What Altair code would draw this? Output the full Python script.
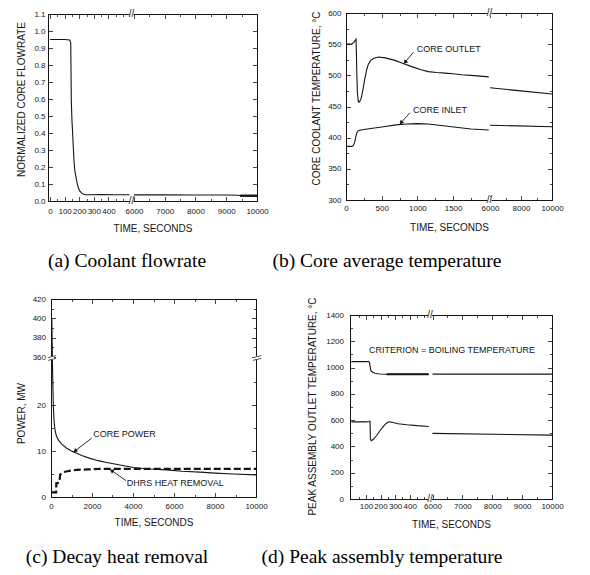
import math
import altair as alt
import pandas as pd

FONT = "Liberation Sans"
SERIF = "Liberation Serif"
INK = "#151515"
TS, TSM = 4.5, 2.5
T2 = 6000          # first time of the right-hand (broken) segment
SPLIT = 3000
GW, GH = 574, 559  # whole figure (one layered view)

# ---------------- (a) Coolant flowrate ----------------
A_T_L = [0, 100, 135, 142, 146, 150, 155, 160, 164, 170, 178, 186, 194, 205, 217, 230, 245, 280, 350, 450, 545]
A_F_L = [0.95, 0.95, 0.947, 0.93, 0.59, 0.48, 0.40, 0.31, 0.24, 0.18, 0.14, 0.105, 0.078, 0.058, 0.046, 0.040,
         0.037, 0.037, 0.038, 0.037, 0.037]
A_T_R = [6000, 7000, 8000, 9000, 9400, 9450, 10000]
A_F_R = [0.036, 0.036, 0.035, 0.035, 0.034, 0.031, 0.031]
A_XTICKS = [0, 100, 200, 300, 400, 6000, 7000, 8000, 9000, 10000]
A_XMINOR = [50, 150, 250, 350, 450, 500, 6500, 7500, 8500, 9500]
A_YTICKS = [0.0, 0.1, 0.2, 0.3, 0.4, 0.5, 0.6, 0.7, 0.8, 0.9, 1.0, 1.1]
A_YMINOR = []

# ---------------- (b) Core average temperature ----------------
B_T_OUT_L = [0, 80, 110, 140, 145, 152, 160, 170, 180, 192, 205, 219, 240, 266, 290, 313, 345, 383, 453, 550,
             686, 800, 920, 1050, 1153, 1270, 1387, 1500, 1620, 1800, 2000]
B_OUT_L = [550, 550, 553, 558, 540, 500, 472, 460, 457, 458, 461, 466, 479, 496, 509, 518, 524, 527, 529.5, 528,
           524, 519, 514, 509, 506, 504.5, 503.5, 502.5, 501, 499.5, 497.5]
B_T_OUT_R = [6000, 8000, 10000]
B_OUT_R = [480, 475, 470]
B_T_IN_L = [0, 80, 100, 120, 135, 150, 165, 190, 250, 400, 550, 700, 850, 1000, 1150, 1300, 1450, 1600, 1750, 2000]
B_IN_L = [386, 386, 387, 392, 400, 407, 410.5, 412, 413, 415.5, 418, 420.5, 422, 422.6, 422, 420, 418, 416, 414, 412.4]
B_T_IN_R = [6000, 10000]
B_IN_R = [420, 417.5]
B_XTICKS = [0, 500, 1000, 1500, 6000, 8000, 10000]
B_XMINOR = [250, 750, 1250, 1750, 7000, 9000]
B_YTICKS = [300, 350, 400, 450, 500, 550, 600]
B_YMINOR = [325, 375, 425, 475, 525, 575]
B_LABELS = ["CORE OUTLET", "CORE INLET"]
B_LAB_T = [990, 938]
B_LAB_Y = [542, 445]
B_ARR_T0 = [943, 896]
B_ARR_Y0 = [537, 440]
B_ARR_T1 = [827, 770]
B_ARR_Y1 = [521, 424]

# ---------------- (c) Decay heat removal ----------------
C_T_POW = [0, 40, 75, 113, 150, 195, 260, 358, 500, 765, 1000, 1253, 1500, 1902, 2300, 2717, 3300, 4016, 4800,
           5643, 6400, 7268, 8000, 8894, 10000]
C_POW = [400, 400, 28, 20, 16.5, 14.6, 13.3, 12.4, 11.6, 10.6, 10.0, 9.5, 9.0, 8.4, 7.9, 7.5, 7.0, 6.4, 6.1,
         5.9, 5.6, 5.4, 5.2, 5.0, 4.8]
C_T_DHRS = [0, 250, 262, 330, 340, 420, 440, 520, 600, 800, 1000, 1250, 1800, 2400, 3000, 4000, 7000, 10000]
C_DHRS = [1.0, 1.0, 3.0, 3.0, 3.4, 3.6, 4.8, 5.2, 5.4, 5.6, 5.75, 5.9, 6.0, 6.1, 6.1, 6.1, 6.1, 6.1]
C_XTICKS = [0, 2000, 4000, 6000, 8000, 10000]
C_XMINOR = [1000, 3000, 5000, 7000, 9000]
C_YTICKS = [0, 10, 20, 360, 380, 400, 420]
C_YMINOR = [5, 15, 25, 370, 390, 410]
C_LABELS = ["CORE POWER", "DHRS HEAT REMOVAL"]
C_LAB_T = [2063, 3692]
C_LAB_P = [13.7, 3.0]
C_ARR_T0 = [1985, 3659]
C_ARR_P0 = [12.8, 3.55]
C_ARR_T1 = [1170, 2960]
C_ARR_P1 = [10.0, 5.75]

# ---------------- (d) Peak assembly temperature ----------------
D_T_LOW_L = [0, 100, 124, 128, 131, 136, 150, 175, 200, 225, 245, 258, 280, 320, 380, 450, 530]
D_LOW_L = [587, 587, 590, 592, 460, 443, 452, 485, 525, 560, 580, 587, 584, 573, 565, 558, 552]
D_T_LOW_R = [6000, 10000]
D_LOW_R = [499, 486]
D_T_UP_L = [0, 108, 118, 124, 128, 132, 139, 150, 163, 180, 200, 242, 530]
D_UP_L = [1045, 1045, 1048, 1040, 1015, 985, 970, 962, 957, 953, 951, 949, 949]
D_T_UP_R = [6000, 10000]
D_UP_R = [950, 950]
D_XTICKS = [100, 200, 300, 400, 6000, 7000, 8000, 9000, 10000]
D_XMINOR = [50, 150, 250, 350, 450, 500, 6500, 7500, 8500, 9500]
D_YTICKS = [0, 200, 400, 600, 800, 1000, 1200, 1400]
D_YMINOR = [100, 300, 500, 700, 900, 1100, 1300]
D_NOTE = ["CRITERION = BOILING TEMPERATURE"]
D_NOTE_T = [6650]
D_NOTE_Y = [1134]

CAPTIONS = ["(a) Coolant flowrate", "(b) Core average temperature",
            "(c) Decay heat removal", "(d) Peak assembly temperature"]

# panel boxes inside the figure: (left, right, top, bottom) in pixels
A_BOX = (40, 249, 6, 193)
B_BOX = (338, 544, 5, 192)
C_BOX = (43, 248, 291, 489)
D_BOX = (342, 544, 307, 491)
AW, BW, DW = 209, 206, 202
BH = B_BOX[3] - B_BOX[2]

# ---------- broken time axis: u = off1 + t*k1 (left part), off2 + (t-6000)*k2 (right part)
A_MAP = (2.0, 0.146, 86.0, (AW - 86.0) / 4000)
B_MAP = (0.0, 0.0714, 144.0, (BW - 144.0) / 4000)
D_MAP = (1.3, 0.146, 82.5, (DW - 82.5) / 4000)
A_BRK, B_BRK, D_BRK = 83.5, 143.5, 80.0


def u_expr(m, f="t"):
    o1, k1, o2, k2 = m
    return f"datum.{f} < {SPLIT} ? {o1} + datum.{f} * {k1} : {o2} + (datum.{f} - {T2}) * {k2}"


def u_of(m, t):
    o1, k1, o2, k2 = m
    return round(o1 + t * k1 if t < SPLIT else o2 + (t - T2) * k2, 6)


def u_label(m, ub):
    o1, k1, o2, k2 = m
    return (f"datum.value < {ub} ? format(round((datum.value - {o1}) / {k1}), 'd') : "
            f"format(round({T2} + (datum.value - {o2}) / {k2}), 'd')")


# ---------- broken power axis of (c)
def v_expr(f):
    return (f"datum.{f} <= 30 ? datum.{f} * 4.6 : (datum.{f} >= 360 ? 140 + (datum.{f} - 360) * {58 / 60} : "
            f"138 + (datum.{f} - 30) * {2 / 330})")


def v_of(p):
    if p <= 30:
        return round(p * 4.6, 6)
    if p >= 360:
        return round(140 + (p - 360) * 58 / 60, 6)
    return round(138 + (p - 30) * 2 / 330, 6)


C_VLABEL = ("datum.value < 139 ? format(round(datum.value / 4.6), 'd') : "
            "format(round(360 + (datum.value - 140) * 60 / 58), 'd')")
C_BRK = 139.0

ONE = pd.DataFrame({"k": [0]})


def series(parts):
    rows = []
    for seg, (ts, ys) in enumerate(parts):
        rows += [{"t": t, "val": y, "seg": seg} for t, y in zip(ts, ys)]
    return pd.DataFrame(rows)


def offset_for(box, orient, s):
    xl, xr, yt, yb = box
    if orient == "bottom":
        return yb - s - GH
    if orient == "top":
        return -(yt + s)
    if orient == "left":
        return -(xl + s)
    return xr - s - GW


def bare(box, orient, values, size):
    return alt.Axis(orient=orient, values=values, tickSize=size, offset=offset_for(box, orient, size),
                    domain=False, grid=False, ticks=True, tickColor=INK, tickWidth=0.8, labels=False,
                    title=None, minExtent=0, maxExtent=5)


def edge(box, orient):
    return alt.Axis(orient=orient, values=[], offset=offset_for(box, orient, 0), domain=True,
                    domainColor=INK, domainWidth=1, domainCap="square", grid=False, ticks=False,
                    labels=False, title=None, minExtent=0, maxExtent=1)


def labeled(box, orient, values, lp, title, tx=None, ty=None, expr=None, fmt=None):
    kw = dict(orient=orient, values=values, tickSize=TS, offset=offset_for(box, orient, TS), domain=False,
              grid=False, ticks=True, tickColor=INK, tickWidth=0.8, labels=True, labelFont=FONT,
              labelFontSize=8, labelColor=INK, labelPadding=lp, labelOverlap=False, labelFlush=False,
              title=title, titleFont=FONT, titleFontSize=10, titleFontWeight="normal",
              titleColor=INK, titleBaseline="middle", minExtent=0)
    if expr is not None:
        kw["labelExpr"] = expr
    if fmt is not None:
        kw["format"] = fmt
    if tx is not None:
        kw["titleX"] = tx
    if ty is not None:
        kw["titleY"] = ty
    return alt.Axis(**kw)


def frame(box, xs, ys, x0, y0, bottom, left, xmaj, xmin, ymaj, ymin):
    one = pd.DataFrame({"xx": [x0], "yy": [y0]})

    def lay(xa, ya):
        return alt.Chart(one).mark_point(opacity=0).encode(
            x=alt.X("xx:Q", scale=xs, axis=xa), y=alt.Y("yy:Q", scale=ys, axis=ya))

    return [lay(bottom, left),
            lay(bare(box, "top", xmaj, TS), bare(box, "right", ymaj, TS)),
            lay(bare(box, "bottom", xmin, TSM), bare(box, "left", ymin, TSM)),
            lay(bare(box, "top", xmin, TSM), bare(box, "right", ymin, TSM)),
            lay(edge(box, "bottom"), edge(box, "left")),
            lay(edge(box, "top"), edge(box, "right"))]


def caption(text, cx, cy):
    return (alt.Chart(ONE).mark_text(text=text, font=SERIF, fontSize=19.5, color="black",
                                     align="center", baseline="middle")
            .encode(x=alt.value(cx), y=alt.value(cy)))


def xbreak(box, xs, ub):
    df = pd.DataFrame({"ub": [ub]})
    out = []
    for yy in (box[2], box[3]):
        out.append(alt.Chart(df).transform_calculate(lo="datum.ub - 2", hi="datum.ub + 2")
                   .mark_rect(color="white")
                   .encode(x=alt.X("lo:Q", scale=xs, axis=None), x2="hi:Q",
                           y=alt.value(yy - 3), y2=alt.value(yy + 3)))
        out.append(alt.Chart(df).mark_text(text="//", font=FONT, fontSize=10, color=INK)
                   .encode(x=alt.X("ub:Q", scale=xs, axis=None), y=alt.value(yy)))
    return out


def line(df, xs, ys, xf, yf, width=1.1, dash=None, flt=None, calc=None):
    ch = alt.Chart(df)
    if calc:
        ch = ch.transform_calculate(**calc)
    if flt:
        ch = ch.transform_filter(flt)
    kw = dict(color=INK, strokeWidth=width, strokeCap="butt")
    if dash:
        kw["strokeDash"] = dash
    return ch.mark_line(**kw).encode(
        x=alt.X(f"{xf}:Q", scale=xs, axis=None), y=alt.Y(f"{yf}:Q", scale=ys, axis=None),
        detail="seg:N", order="t:Q")


def annotations(xs, ys, labels, lt, ly, t0, y0, t1, y1, xcalc, ycalc, px, py):
    lab = pd.DataFrame({"label": labels, "t": lt, "y": ly})
    ang = []
    for a, b, c, d in zip(t0, y0, t1, y1):
        dx = px(c) - px(a)
        dy = py(d) - py(b)
        ang.append((math.degrees(math.atan2(dx, -dy)) + 360) % 360)
    arr = pd.DataFrame({"t0": t0, "y0": y0, "t1": t1, "y1": y1, "ang": ang})
    text = (alt.Chart(lab).transform_calculate(X=xcalc("t"), Y=ycalc("y"))
            .mark_text(align="left", baseline="middle", font=FONT, fontSize=9, color=INK)
            .encode(x=alt.X("X:Q", scale=xs, axis=None), y=alt.Y("Y:Q", scale=ys, axis=None), text="label:N"))
    base = alt.Chart(arr).transform_calculate(X0=xcalc("t0"), X1=xcalc("t1"), Y0=ycalc("y0"), Y1=ycalc("y1"))
    rule = base.mark_rule(color=INK, strokeWidth=0.9).encode(
        x=alt.X("X0:Q", scale=xs, axis=None), x2="X1:Q",
        y=alt.Y("Y0:Q", scale=ys, axis=None), y2="Y1:Q")
    head = base.mark_point(shape="triangle-up", filled=True, size=22, color=INK, opacity=1).encode(
        x=alt.X("X1:Q", scale=xs, axis=None), y=alt.Y("Y1:Q", scale=ys, axis=None),
        angle=alt.Angle("ang:Q", scale=None))
    return [text, rule, head]


def panel(layers):
    return alt.layer(*layers).resolve_axis(x="independent", y="independent")


def sc(domain, rng):
    return alt.Scale(domain=domain, range=rng, nice=False, zero=False)


# ================= panel (a) =================
xa = sc([0, AW], [A_BOX[0], A_BOX[1]])
ya = sc([0, 1.1], [A_BOX[3], A_BOX[2]])
a_df = series([(A_T_L, A_F_L), (A_T_R, A_F_R)])
pa = panel(
    frame(A_BOX, xa, ya, 0, 0,
          labeled(A_BOX, "bottom", [u_of(A_MAP, t) for t in A_XTICKS], 6.5, "TIME, SECONDS", ty=31.5,
                  expr=u_label(A_MAP, A_BRK)),
          labeled(A_BOX, "left", A_YTICKS, 3, "NORMALIZED CORE FLOWRATE", tx=-31.5, ty=A_BOX[2] + 85,
                  fmt=".1f"),
          [u_of(A_MAP, t) for t in A_XTICKS], [u_of(A_MAP, t) for t in A_XMINOR], A_YTICKS, A_YMINOR)
    + [line(a_df, xa, ya, "u", "val", calc={"u": u_expr(A_MAP)}),
       line(a_df, xa, ya, "u", "val", width=2.4, flt="datum.t >= 9450", calc={"u": u_expr(A_MAP)})]
    + xbreak(A_BOX, xa, A_BRK)
    + [caption(CAPTIONS[0], 119, 253)])

# ================= panel (b) =================
xb = sc([0, BW], [B_BOX[0], B_BOX[1]])
yb = sc([300, 600], [B_BOX[3], B_BOX[2]])
b_out = series([(B_T_OUT_L, B_OUT_L), (B_T_OUT_R, B_OUT_R)])
b_in = series([(B_T_IN_L, B_IN_L), (B_T_IN_R, B_IN_R)])
pb = panel(
    frame(B_BOX, xb, yb, 0, 300,
          labeled(B_BOX, "bottom", [u_of(B_MAP, t) for t in B_XTICKS], 4.5, "TIME, SECONDS", ty=31.5,
                  expr=u_label(B_MAP, B_BRK)),
          labeled(B_BOX, "left", B_YTICKS, 5, "CORE COOLANT TEMPERATURE, °C", tx=-34.5, ty=B_BOX[2] + 85,
                  fmt="d"),
          [u_of(B_MAP, t) for t in B_XTICKS], [u_of(B_MAP, t) for t in B_XMINOR], B_YTICKS, B_YMINOR)
    + [line(b_out, xb, yb, "u", "val", calc={"u": u_expr(B_MAP)}),
       line(b_in, xb, yb, "u", "val", calc={"u": u_expr(B_MAP)})]
    + annotations(xb, yb, B_LABELS, B_LAB_T, B_LAB_Y, B_ARR_T0, B_ARR_Y0, B_ARR_T1, B_ARR_Y1,
                  lambda f: u_expr(B_MAP, f), lambda f: f"datum.{f}",
                  lambda t: u_of(B_MAP, t), lambda y: BH * (1 - (y - 300) / 300))
    + xbreak(B_BOX, xb, B_BRK)
    + [caption(CAPTIONS[1], 379, 253)])

# ================= panel (c) =================
xc = sc([0, 10000], [C_BOX[0], C_BOX[1]])
yc = sc([0, 198], [C_BOX[3], C_BOX[2]])
c_pow = series([(C_T_POW, C_POW)])
c_dhrs = series([(C_T_DHRS, C_DHRS)])
c_gap = pd.DataFrame({"vb": [C_BRK]})
c_breaks = []
for xx in (C_BOX[0], C_BOX[1]):
    c_breaks.append(alt.Chart(c_gap).transform_calculate(lo="datum.vb - 2", hi="datum.vb + 2")
                    .mark_rect(color="white")
                    .encode(x=alt.value(xx - 3), x2=alt.value(xx + 3),
                            y=alt.Y("lo:Q", scale=yc, axis=None), y2="hi:Q"))
    c_breaks.append(alt.Chart(c_gap).mark_text(text="\\\\", angle=90, font=FONT, fontSize=10, color=INK)
                    .encode(x=alt.value(xx), y=alt.Y("vb:Q", scale=yc, axis=None)))
CW = C_BOX[1] - C_BOX[0]
CH = C_BOX[3] - C_BOX[2]
pc = panel(
    frame(C_BOX, xc, yc, 0, 0,
          labeled(C_BOX, "bottom", C_XTICKS, 5, "TIME, SECONDS", ty=30, fmt="d"),
          labeled(C_BOX, "left", [v_of(p) for p in C_YTICKS], 5.5, "POWER, MW", tx=-34.5,
                  ty=C_BOX[2] + 114, expr=C_VLABEL),
          C_XTICKS, C_XMINOR, [v_of(p) for p in C_YTICKS], [v_of(p) for p in C_YMINOR])
    + [line(c_pow, xc, yc, "t", "v", calc={"v": v_expr("val")}),
       line(c_dhrs, xc, yc, "t", "v", width=2.2, dash=[7, 3], calc={"v": v_expr("val")})]
    + annotations(xc, yc, C_LABELS, C_LAB_T, C_LAB_P, C_ARR_T0, C_ARR_P0, C_ARR_T1, C_ARR_P1,
                  lambda f: f"datum.{f}", v_expr,
                  lambda t: t * CW / 10000, lambda p: CH - v_of(p))
    + c_breaks
    + [caption(CAPTIONS[2], 109, 549)])

# ================= panel (d) =================
xd = sc([0, DW], [D_BOX[0], D_BOX[1]])
yd = sc([0, 1400], [D_BOX[3], D_BOX[2]])
d_low = series([(D_T_LOW_L, D_LOW_L), (D_T_LOW_R, D_LOW_R)])
d_up = series([(D_T_UP_L, D_UP_L), (D_T_UP_R, D_UP_R)])
d_note = pd.DataFrame({"label": D_NOTE, "t": D_NOTE_T, "y": D_NOTE_Y})
pd_ = panel(
    frame(D_BOX, xd, yd, 0, 0,
          labeled(D_BOX, "bottom", [u_of(D_MAP, t) for t in D_XTICKS], 3.5, "TIME, SECONDS", ty=29.5,
                  expr=u_label(D_MAP, D_BRK)),
          labeled(D_BOX, "left", D_YTICKS, 6.5, "PEAK ASSEMBLY OUTLET TEMPERATURE, °C", tx=-42.5,
                  ty=D_BOX[2] + 91, fmt="d"),
          [u_of(D_MAP, t) for t in D_XTICKS], [u_of(D_MAP, t) for t in D_XMINOR], D_YTICKS, D_YMINOR)
    + [line(d_low, xd, yd, "u", "val", calc={"u": u_expr(D_MAP)}),
       line(d_up, xd, yd, "u", "val", calc={"u": u_expr(D_MAP)}),
       line(d_up, xd, yd, "u", "val", width=2.2, flt="datum.t >= 242 && datum.t <= 530",
            calc={"u": u_expr(D_MAP)}),
       alt.Chart(d_note).transform_calculate(X=u_expr(D_MAP))
       .mark_text(align="center", baseline="middle", font=FONT, fontSize=9, color=INK)
       .encode(x=alt.X("X:Q", scale=xd, axis=None), y=alt.Y("y:Q", scale=yd, axis=None), text="label:N")]
    + xbreak(D_BOX, xd, D_BRK)
    + [caption(CAPTIONS[3], 374, 549)])

chart = (alt.layer(pa, pb, pc, pd_)
         .resolve_scale(x="independent", y="independent")
         .resolve_axis(x="independent", y="independent")
         .properties(width=GW, height=GH, padding=0)
         .configure_view(strokeOpacity=0))

chart.save("out.html", embed_options={"renderer": "svg", "actions": False})
